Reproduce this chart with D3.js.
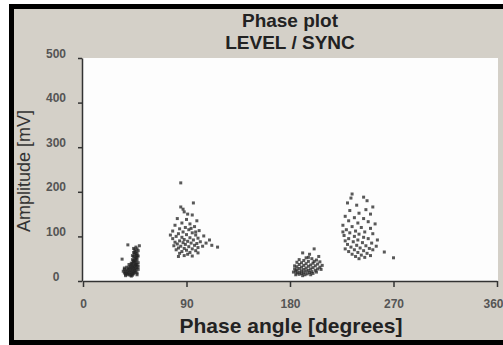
<!DOCTYPE html>
<html>
<head>
<meta charset="utf-8">
<script src="https://cdn.jsdelivr.net/npm/d3@7"></script>
<style>
  body { margin: 0; background: #fff; }
  svg { display: block; font-family: "Liberation Sans", Arial, sans-serif; }
</style>
</head>
<body>
<svg width="503" height="345"></svg>
<script>
// **** Data: [phase degrees, amplitude mV] ****
var cluster1 = [
  [39,81],[34,49],[49,79],[46,76],[47,72],[45,70],[48,68],[46,66],[44,64],[47,62],[45,60],[46,58],
  [48,56],[44,55],[47,53],[45,51],[46,49],[43,48],[47,47],[45,45],[44,43],[46,42],[48,41],[43,40],
  [45,38],[47,37],[42,36],[44,35],[46,34],[41,33],[43,32],[45,31],[47,30],[40,30],[42,29],[44,28],
  [46,27],[39,27],[41,26],[43,25],[45,24],[38,24],[40,23],[42,22],[44,21],[46,22],[37,21],[39,20],
  [41,19],[43,18],[45,19],[36,18],[38,17],[40,16],[42,15],[44,16],[37,15],[39,14],[41,13],[43,13],
  [35,22],[36,26],[48,26],[47,18],[45,64],[46,53],[44,46],[46,38],[48,33],[42,40],[40,37],[38,31],
  [36,29],[37,12],[42,11],[47,14],[44,73],[47,58],[43,57]
];
var cluster2 = [
  [85,220],[85,166],[96,175],[95,148],[88,155],[82,140],[90,138],[99,135],[86,130],[93,128],[80,125],
  [97,122],[89,120],[84,117],[92,115],[101,113],[78,112],[87,110],[95,108],[83,106],[90,104],[98,103],
  [105,101],[81,100],[86,98],[93,97],[100,96],[78,95],[88,93],[96,92],[84,90],[91,89],[102,88],[110,92],
  [80,87],[87,86],[94,85],[99,84],[82,83],[89,82],[97,80],[104,78],[117,76],[79,79],[85,78],[92,77],
  [100,75],[83,74],[88,73],[95,72],[81,70],[90,69],[98,68],[86,66],[93,64],[84,62],[91,60],[88,57],
  [95,56],[83,55],[100,63],[107,85],[112,80],[76,103],[94,118],[91,150],[87,161],[98,110]
];
var cluster3 = [
  [191,63],[201,72],[197,60],[205,55],[194,52],[199,50],[188,48],[203,47],[192,46],[196,44],[206,43],
  [186,42],[190,41],[200,40],[194,39],[204,38],[188,37],[198,36],[192,35],[184,34],[202,34],[196,33],
  [186,32],[190,31],[206,31],[200,30],[194,29],[188,28],[184,27],[198,27],[204,27],[192,26],[186,25],
  [196,24],[202,24],[190,23],[185,22],[194,22],[199,21],[188,20],[192,19],[197,19],[203,20],[186,18],
  [190,17],[195,16],[200,17],[188,15],[193,14],[198,14],[191,12],[185,14],[207,26],[201,44],[183,20],
  [208,35],[196,53]
];
var cluster4 = [
  [234,195],[244,188],[252,166],[230,175],[238,170],[246,160],[232,158],[240,152],[250,150],[228,145],
  [236,142],[244,140],[231,135],[248,133],[239,130],[254,128],[226,125],[234,122],[242,120],[250,118],
  [229,115],[237,112],[245,110],[232,108],[240,105],[252,106],[227,102],[236,100],[244,98],[231,95],
  [248,95],[239,92],[256,92],[228,90],[235,88],[243,86],[251,85],[230,82],[238,80],[246,79],[233,76],
  [241,74],[249,73],[228,72],[236,70],[244,68],[252,70],[231,66],[239,64],[247,62],[234,60],[242,58],
  [250,57],[237,55],[245,53],[240,50],[262,65],[270,52],[255,78],[226,110],[247,180],[233,186]
];
var xTicks = [0, 90, 180, 270, 360];
var yTicks = [0, 100, 200, 300, 400, 500];
var titleLines = ['Phase plot', 'LEVEL / SYNC'];

var points = cluster1.concat(cluster2, cluster3, cluster4);

var svg = d3.select('svg');

// frame + grey panel
svg.append('rect').attr('x', 9).attr('y', 4).attr('width', 494).attr('height', 341).attr('fill', '#000');
svg.append('rect').attr('x', 14).attr('y', 9).attr('width', 489).attr('height', 331).attr('fill', '#d4d0c8');

// scales
var x = d3.scaleLinear().domain([0, 360]).range([83, 497]);
var y = d3.scaleLinear().domain([0, 500]).range([281, 58]);

// plot area
svg.append('rect')
    .attr('x', 83).attr('y', 58)
    .attr('width', 415).attr('height', 223)
    .attr('fill', '#fdfdfd');

// points
var blur = svg.append('defs').append('filter').attr('id', 'soft');
blur.append('feGaussianBlur').attr('stdDeviation', 0.45);

svg.append('g').attr('filter', 'url(#soft)')
  .selectAll('rect')
  .data(points)
  .enter()
  .append('rect')
    .attr('x', d => x(d[0]) - 1.5)
    .attr('y', d => y(d[1]) - 1.5)
    .attr('width', 3)
    .attr('height', 3)
    .attr('fill', '#222')
    .attr('opacity', 0.75);

// y axis
var yAxis = svg.append('g')
    .attr('transform', 'translate(82,0)')
    .call(d3.axisLeft(y).tickValues(yTicks).tickSize(4).tickSizeOuter(0));
yAxis.selectAll('text')
    .attr('x', -26).attr('dy', 0).attr('y', -1)
    .attr('text-anchor', 'middle')
    .attr('fill', '#555')
    .style('font-size', '12px')
    .style('font-weight', 'bold');

// x axis
var xAxis = svg.append('g')
    .attr('transform', 'translate(0,281)')
    .call(d3.axisBottom(x).tickValues(xTicks).tickSize(6).tickSizeOuter(0));
xAxis.selectAll('text')
    .attr('y', 27).attr('dy', 0)
    .attr('fill', '#555')
    .style('font-size', '12px')
    .style('font-weight', 'bold');
xAxis.select('.tick:last-of-type text').attr('text-anchor', 'end').attr('x', 6);

svg.selectAll('.domain, .tick line').attr('stroke', '#333').attr('stroke-width', 1.5);

// title, two lines
svg.selectAll('.title')
    .data(titleLines)
    .enter()
    .append('text')
    .attr('class', 'title')
    .attr('x', 290)
    .attr('y', (d, i) => 27 + i * 22)
    .attr('text-anchor', 'middle')
    .attr('fill', '#222')
    .style('font-size', '19px').style('font-weight', 'bold')
    .text(d => d);

// x axis label
svg.append('text')
    .attr('x', 291).attr('y', 333)
    .attr('text-anchor', 'middle')
    .attr('fill', '#222')
    .style('font-size', '21px').style('font-weight', 'bold')
    .text('Phase angle [degrees]');

// y axis label
svg.append('text')
    .attr('transform', 'translate(30,171) rotate(-90)')
    .attr('text-anchor', 'middle')
    .attr('fill', '#333')
    .style('font-size', '18px')
    .text('Amplitude [mV]');
</script>
</body>
</html>
